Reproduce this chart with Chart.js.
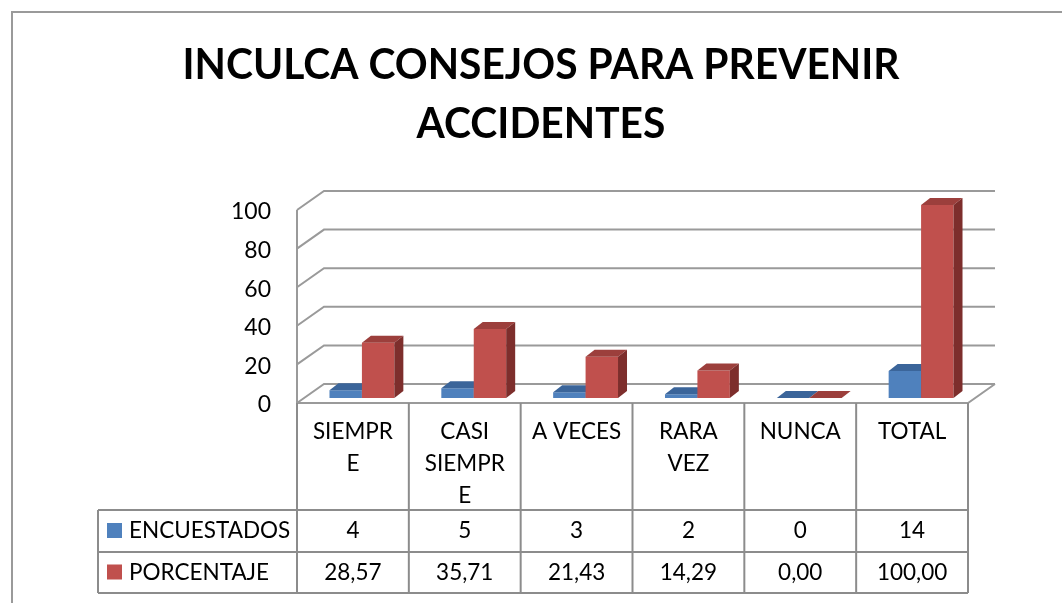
<!DOCTYPE html>
<html>
<head>
<meta charset="utf-8">
<script src="https://cdn.jsdelivr.net/npm/chart.js@4"></script>
<style>
  html, body { margin: 0; padding: 0; background: #fff; }
  canvas { display: block; }
</style>
</head>
<body>
<canvas id="chart3d" width="1062" height="603"></canvas>
<script>
// data
var titleLines = ['INCULCA CONSEJOS PARA PREVENIR', 'ACCIDENTES'];
var categories = [['SIEMPR', 'E'], ['CASI', 'SIEMPR', 'E'], ['A VECES'], ['RARA', 'VEZ'], ['NUNCA'], ['TOTAL']];
var encuestados = [4, 5, 3, 2, 0, 14];
var porcentaje = [28.57, 35.71, 21.43, 14.29, 0, 100];
var yTicks = [0, 20, 40, 60, 80, 100];

var FONT = 'Lato, "Liberation Sans", sans-serif';
var GRID = '#9a9a9a';
var WALL = { x: 27, y: -19 };      // depth of the back wall
var SHIFT = { x: 9, y: -5 };       // bars sit half way back
var BAR = { x: 9, y: -7 };         // depth of each bar

var faces = [
    { front: '#4F81BD', top: '#3b659a', side: '#2f5580' },
    { front: '#C0504D', top: '#9c3f3c', side: '#7d2e2c' }
];

function fmt(v, dec) {
    return v.toFixed(dec).replace('.', ',');
}

// back wall, floor, axis labels, 3d bars, table, title and border
var backdrop = {
    id: 'backdrop',
    beforeDatasetsDraw: function (chart) {
        var c = chart.ctx, y = chart.scales.y, x = chart.scales.x;
        c.save();
        c.strokeStyle = GRID;
        c.lineWidth = 2;
        yTicks.forEach(function (t) {
            var py = y.getPixelForValue(t);
            c.beginPath();
            c.moveTo(x.left, py);
            c.lineTo(x.left + WALL.x, py + WALL.y);
            c.lineTo(x.right + WALL.x, py + WALL.y);
            c.stroke();
        });
        // left axis + floor edge
        c.beginPath();
        c.moveTo(x.left, y.getPixelForValue(100));
        c.lineTo(x.left, y.bottom);
        c.lineTo(x.right, y.bottom);
        c.lineTo(x.right + WALL.x, y.bottom + WALL.y);
        c.stroke();

        c.fillStyle = '#000';
        c.font = '23px ' + FONT;
        c.textAlign = 'right';
        c.textBaseline = 'middle';
        yTicks.forEach(function (t) {
            c.fillText(String(t), 271, y.getPixelForValue(t) + 2);
        });
        c.restore();
    },
    // bars are drawn below, left series first, so skip the default pass
    beforeDatasetDraw: function () {
        return false;
    },
    afterDatasetsDraw: function (chart) {
        var c = chart.ctx;
        c.save();
        c.translate(SHIFT.x, SHIFT.y);
        chart.data.datasets.forEach(function (ds, di) {
            var col = faces[di];
            chart.getDatasetMeta(di).data.forEach(function (bar) {
                bar.draw(c);
                var p = bar.getProps(['x', 'y', 'base', 'width'], true);
                var x1 = p.x - p.width / 2, x2 = p.x + p.width / 2;
                var yt = Math.min(p.y, p.base);
                c.fillStyle = col.top;
                c.beginPath();
                c.moveTo(x1, yt);
                c.lineTo(x2, yt);
                c.lineTo(x2 + BAR.x, yt + BAR.y);
                c.lineTo(x1 + BAR.x, yt + BAR.y);
                c.closePath();
                c.fill();
                c.fillStyle = col.side;
                c.beginPath();
                c.moveTo(x2, yt);
                c.lineTo(x2 + BAR.x, yt + BAR.y);
                c.lineTo(x2 + BAR.x, p.base + BAR.y);
                c.lineTo(x2, p.base);
                c.closePath();
                c.fill();
            });
        });
        c.restore();
    },
    afterDraw: function (chart) {
        var c = chart.ctx, x = chart.scales.x, y = chart.scales.y;
        var colW = (x.right - x.left) / categories.length;
        var top = y.bottom, r1 = 510, r2 = 552, r3 = 593, legL = 98;
        c.save();

        // outer frame
        c.strokeStyle = '#9a9a9a';
        c.lineWidth = 2;
        c.strokeRect(12, 12, 1100, 700);

        // title
        c.fillStyle = '#000';
        c.font = 'bold 42px ' + FONT;
        c.textAlign = 'center';
        c.textBaseline = 'alphabetic';
        var sx = 717 / c.measureText(titleLines[0]).width;
        c.save();
        c.translate(541, 0);
        c.scale(sx, 1);
        c.fillText(titleLines[0], 0, 79);
        c.fillText(titleLines[1], 0, 138);
        c.restore();

        // data table grid
        c.strokeStyle = '#8c8c8c';
        c.lineWidth = 2;
        c.beginPath();
        [r1, r2, r3].forEach(function (ry) {
            c.moveTo(legL, ry);
            c.lineTo(x.right, ry);
        });
        c.moveTo(legL, r1);
        c.lineTo(legL, r3);
        for (var i = 0; i <= categories.length; i++) {
            var vx = x.left + i * colW;
            c.moveTo(vx, top);
            c.lineTo(vx, r3);
        }
        c.stroke();

        // headers and values
        c.font = '22.5px ' + FONT;
        c.textAlign = 'center';
        c.textBaseline = 'middle';
        c.fillStyle = '#000';
        categories.forEach(function (lab, i) {
            var cx = x.getPixelForValue(i);
            lab.forEach(function (line, k) {
                c.fillText(line, cx, top + 29 + k * 32);
            });
            c.fillText(fmt(encuestados[i], 0), cx, (r1 + r2) / 2);
            c.fillText(fmt(porcentaje[i], 2), cx, (r2 + r3) / 2);
        });

        // legend keys
        var names = chart.data.datasets.map(function (d) { return d.label; });
        [[r1, r2], [r2, r3]].forEach(function (row, i) {
            var cy = (row[0] + row[1]) / 2;
            c.fillStyle = faces[i].front;
            c.fillRect(107, cy - 8, 15, 15);
            c.fillStyle = '#000';
            c.textAlign = 'left';
            c.fillText(names[i], 129, cy);
        });
        c.restore();
    }
};

var chart = new Chart(document.getElementById('chart3d').getContext('2d'), {
    type: 'bar',
    data: {
        labels: categories,
        datasets: [
            { label: 'ENCUESTADOS', data: encuestados, backgroundColor: faces[0].front },
            { label: 'PORCENTAJE', data: porcentaje, backgroundColor: faces[1].front }
        ]
    },
    options: {
        responsive: false,
        devicePixelRatio: 1,
        animation: false,
        layout: { padding: { left: 297, right: 94, top: 210, bottom: 200 } },
        datasets: { bar: { barPercentage: 1, categoryPercentage: 0.58, borderWidth: 0 } },
        scales: {
            x: { display: false },
            y: { display: false, min: 0, max: 100 }
        },
        plugins: { legend: { display: false }, tooltip: { enabled: false } }
    },
    plugins: [backdrop]
});
</script>
</body>
</html>
